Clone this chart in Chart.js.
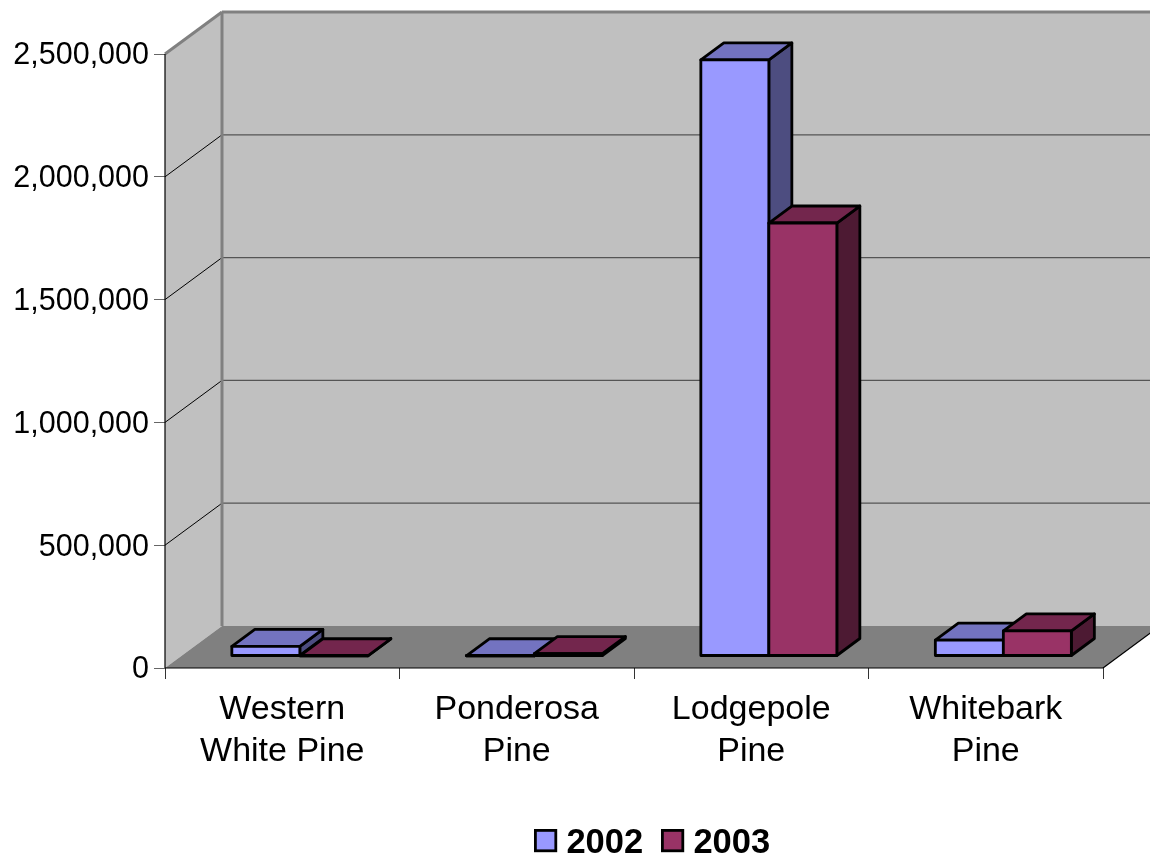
<!DOCTYPE html>
<html>
<head>
<meta charset="utf-8">
<title>Pine volume by species</title>
<script src="https://cdn.jsdelivr.net/npm/chart.js@4"></script>
<style>
  html, body { margin: 0; padding: 0; background: #fff; }
  #wrap { width: 1150px; height: 854px; }
</style>
</head>
<body>
<div id="wrap"><canvas id="pineChart" width="1150" height="854"></canvas></div>
<script>
const categories = [['Western', 'White Pine'], ['Ponderosa', 'Pine'], ['Lodgepole', 'Pine'], ['Whitebark', 'Pine']];
const values2002 = [39000, 1000, 2427000, 65000];
const values2003 = [1000, 10000, 1763000, 102000];
const yTicks = [0, 500000, 1000000, 1500000, 2000000, 2500000];

// how far the back wall sits behind the axis plane
const wallDx = 57;
const wallDy = 42;
// bars stand on the floor, a little behind the axis plane
const barDx = 17.6;
const barDy = 12;
// depth of each bar and the weight of its outline
const depthDx = 23;
const depthDy = 17;
const barLine = 2.8;

const topColors = ['#7373C0', '#73264D'];
const sideColors = ['#4D4D80', '#4D1A33'];

function fillPoly(ctx, pts, fill, stroke, lineWidth) {
    ctx.beginPath();
    pts.forEach(function (p, i) {
        if (i === 0) ctx.moveTo(p[0], p[1]);
        else ctx.lineTo(p[0], p[1]);
    });
    ctx.closePath();
    if (fill) {
        ctx.fillStyle = fill;
        ctx.fill();
    }
    if (stroke) {
        ctx.strokeStyle = stroke;
        ctx.lineWidth = lineWidth;
        ctx.stroke();
    }
}

function line(ctx, x1, y1, x2, y2, color, width) {
    ctx.beginPath();
    ctx.moveTo(x1, y1);
    ctx.lineTo(x2, y2);
    ctx.strokeStyle = color;
    ctx.lineWidth = width;
    ctx.stroke();
}

function barBox(bar) {
    const p = bar.getProps(['x', 'y', 'base', 'width'], true);
    return { l: p.x - p.width / 2, r: p.x + p.width / 2, t: p.y, b: p.base };
}

// top and side faces of one series, these go under its front faces
function drawBarFaces(chart, index) {
    const ctx = chart.ctx;
    ctx.save();
    ctx.lineJoin = 'round';
    chart.getDatasetMeta(index).data.forEach(function (bar) {
        const s = barBox(bar);
        fillPoly(ctx, [[s.r, s.t], [s.r + depthDx, s.t - depthDy], [s.r + depthDx, s.b - depthDy], [s.r, s.b]], sideColors[index], '#000', barLine);
        fillPoly(ctx, [[s.l, s.t], [s.l + depthDx, s.t - depthDy], [s.r + depthDx, s.t - depthDy], [s.r, s.t]], topColors[index], '#000', barLine);
    });
    ctx.restore();
}

// outline sits centred on the bar edge, the native border would be inset
function drawBarOutlines(chart, index) {
    const ctx = chart.ctx;
    ctx.save();
    ctx.lineJoin = 'round';
    chart.getDatasetMeta(index).data.forEach(function (bar) {
        const s = barBox(bar);
        fillPoly(ctx, [[s.l, s.t], [s.r, s.t], [s.r, s.b], [s.l, s.b]], null, '#000', barLine);
    });
    ctx.restore();
}

// side wall, back wall, floor and the gridlines on them
const wallsPlugin = {
    id: 'walls',
    beforeDatasetsDraw: function (chart) {
        const ctx = chart.ctx;
        const left = chart.chartArea.left;
        const right = chart.chartArea.right;
        const yScale = chart.scales.y;
        const top = yScale.getPixelForValue(yTicks[yTicks.length - 1]);
        const bottom = yScale.getPixelForValue(0);
        const backX = left + wallDx;
        const backRight = right + wallDx;

        ctx.save();
        fillPoly(ctx, [[left, top], [backX, top - wallDy], [backRight, top - wallDy], [backRight, bottom - wallDy], [backX, bottom - wallDy], [left, bottom]], '#C0C0C0');
        fillPoly(ctx, [[left, bottom], [backX, bottom - wallDy], [backRight, bottom - wallDy], [right, bottom]], '#808080');

        yTicks.forEach(function (tick) {
            if (tick === 0 || tick === yTicks[yTicks.length - 1]) return;
            const y = yScale.getPixelForValue(tick);
            line(ctx, left, y, backX, y - wallDy, '#000', 1);
            line(ctx, backX, y - wallDy, backRight, y - wallDy, '#555', 1.2);
        });

        // wall outline
        line(ctx, backX, top - wallDy, backRight, top - wallDy, '#808080', 3);
        line(ctx, backX, top - wallDy, backX, bottom - wallDy, '#808080', 3);
        line(ctx, left, top, backX, top - wallDy, '#808080', 3);
        // axis plane edges
        line(ctx, left, top, left, bottom, '#000', 1.2);
        line(ctx, left, bottom, right, bottom, '#000', 1.2);
        line(ctx, right, bottom, backRight, bottom - wallDy, '#000', 1.2);
        ctx.restore();

        // the native bars get drawn inside this shift, undone below
        ctx.save();
        ctx.translate(barDx, -barDy);
    },
    beforeDatasetDraw: function (chart, args) {
        // Chart.js paints the last series first, but 2003 has to land on top of 2002
        if (args.index === 1) return false;
        drawBarFaces(chart, args.index);
    },
    afterDatasetDraw: function (chart, args) {
        drawBarOutlines(chart, args.index);
    },
    afterDatasetsDraw: function (chart) {
        drawBarFaces(chart, 1);
        chart.getDatasetMeta(1).controller.draw();
        drawBarOutlines(chart, 1);
        chart.ctx.restore();
    }
};

// legend drawn by hand so the swatch and the year sit close together
const legendPlugin = {
    id: 'yearLegend',
    afterDraw: function (chart) {
        const ctx = chart.ctx;
        const xs = [535.4, 662.4];
        ctx.save();
        ctx.font = 'bold 34.5px "Liberation Sans", Arial, sans-serif';
        ctx.textBaseline = 'middle';
        ctx.textAlign = 'left';
        chart.data.datasets.forEach(function (ds, i) {
            ctx.fillStyle = ds.backgroundColor;
            ctx.fillRect(xs[i], 830.4, 20.4, 20.4);
            ctx.strokeStyle = '#000';
            ctx.lineWidth = 2.8;
            ctx.strokeRect(xs[i], 830.4, 20.4, 20.4);
            ctx.fillStyle = '#000';
            ctx.fillText(ds.label, xs[i] + 31, 843);
        });
        ctx.restore();
    }
};

const pineChart = new Chart(document.getElementById('pineChart').getContext('2d'), {
    type: 'bar',
    data: {
        labels: categories,
        datasets: [
            {
                label: '2002',
                data: values2002,
                backgroundColor: '#9999FF',
                borderWidth: 0,
                inflateAmount: 0,
                clip: false
            },
            {
                label: '2003',
                data: values2003,
                backgroundColor: '#993366',
                borderWidth: 0,
                inflateAmount: 0,
                clip: false
            }
        ]
    },
    options: {
        responsive: false,
        animation: false,
        categoryPercentage: 0.58,
        barPercentage: 1,
        layout: { padding: { top: 54, right: 47 } },
        plugins: {
            legend: { display: false },
            tooltip: { enabled: false }
        },
        scales: {
            x: {
                afterFit: function (scale) { scale.height = 186; },
                grid: { drawOnChartArea: false, tickLength: 11, color: '#333', offset: true },
                border: { display: false },
                ticks: {
                    color: '#000',
                    maxRotation: 0,
                    autoSkip: false,
                    padding: 10,
                    font: { family: '"Liberation Sans", Arial, sans-serif', size: 34, lineHeight: 1.235 }
                }
            },
            y: {
                min: 0,
                max: 2500000,
                afterFit: function (scale) { scale.width = 165; },
                afterBuildTicks: function (scale) {
                    scale.ticks = yTicks.map(function (v) { return { value: v }; });
                },
                grid: { drawOnChartArea: false, tickLength: 11, color: '#666' },
                border: { display: false },
                ticks: {
                    color: '#000',
                    padding: 5,
                    labelOffset: 2,
                    font: { family: '"Liberation Sans", Arial, sans-serif', size: 30.5 },
                    callback: function (value) { return value.toLocaleString('en-US'); }
                }
            }
        }
    },
    plugins: [wallsPlugin, legendPlugin]
});
</script>
</body>
</html>
